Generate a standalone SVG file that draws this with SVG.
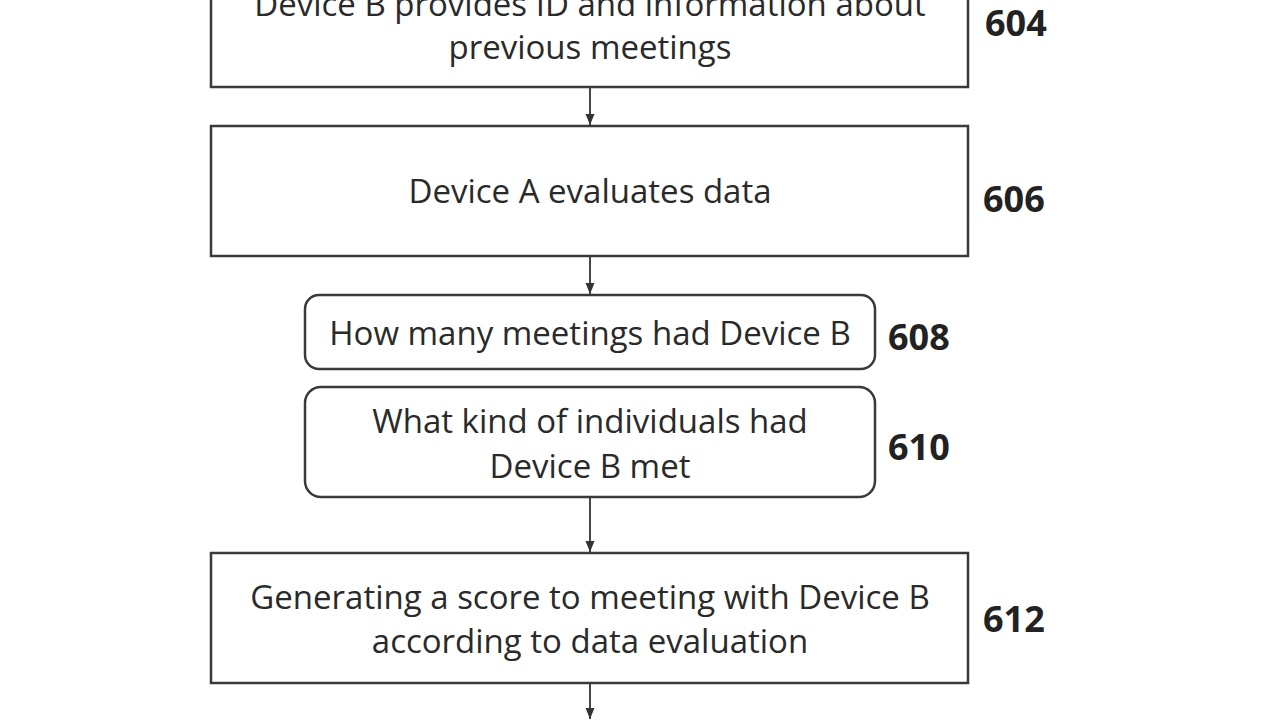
<svg xmlns="http://www.w3.org/2000/svg" width="1280" height="720" viewBox="0 0 1280 720">
<defs>
<marker id="ah" markerWidth="12" markerHeight="10" refX="11" refY="5" orient="auto" markerUnits="userSpaceOnUse" viewBox="0 0 12 10">
<path d="M0,0.5 L11,5 L0,9.5 Z" fill="#333"/>
</marker>
<style>
.box{fill:#fff;stroke:#3a3a3a;stroke-width:2.5}
.t{font-family:"Open Sans","Liberation Sans",sans-serif;font-size:33px;fill:#2a2a2a;text-anchor:middle}
.lbl{font-family:"Open Sans","Liberation Sans",sans-serif;font-size:36px;font-weight:bold;fill:#222}
.c{stroke:#333;stroke-width:1.8;fill:none}
</style>
</defs>
<rect width="1280" height="720" fill="#fff"/>
<g id="n604">
<rect class="box" x="211" y="-45" width="757" height="132"/>
<text class="t" x="590" y="16">Device B provides ID and information about</text>
<text class="t" x="590" y="59">previous meetings</text>
<text class="lbl" x="985" y="36">604</text>
</g>
<g id="n606">
<rect class="box" x="211" y="126" width="757" height="130"/>
<text class="t" x="590" y="203">Device A evaluates data</text>
<text class="lbl" x="983" y="212">606</text>
</g>
<g id="n608">
<rect class="box" x="305" y="295" width="570" height="74" rx="14"/>
<text class="t" x="590" y="345">How many meetings had Device B</text>
<text class="lbl" x="888" y="350">608</text>
</g>
<g id="n610">
<rect class="box" x="305" y="387" width="570" height="110" rx="16"/>
<text class="t" x="590" y="433">What kind of individuals had</text>
<text class="t" x="590" y="478">Device B met</text>
<text class="lbl" x="888" y="460">610</text>
</g>
<g id="n612">
<rect class="box" x="211" y="553" width="757" height="130"/>
<text class="t" x="590" y="609">Generating a score to meeting with Device B</text>
<text class="t" x="590" y="653">according to data evaluation</text>
<text class="lbl" x="983" y="632">612</text>
</g>
<g id="connectors">
<line class="c" x1="590" y1="88" x2="590" y2="125" marker-end="url(#ah)"/>
<line class="c" x1="590" y1="257" x2="590" y2="294" marker-end="url(#ah)"/>
<line class="c" x1="590" y1="498" x2="590" y2="552" marker-end="url(#ah)"/>
<line class="c" x1="590" y1="684" x2="590" y2="719" marker-end="url(#ah)"/>
</g>
</svg>
